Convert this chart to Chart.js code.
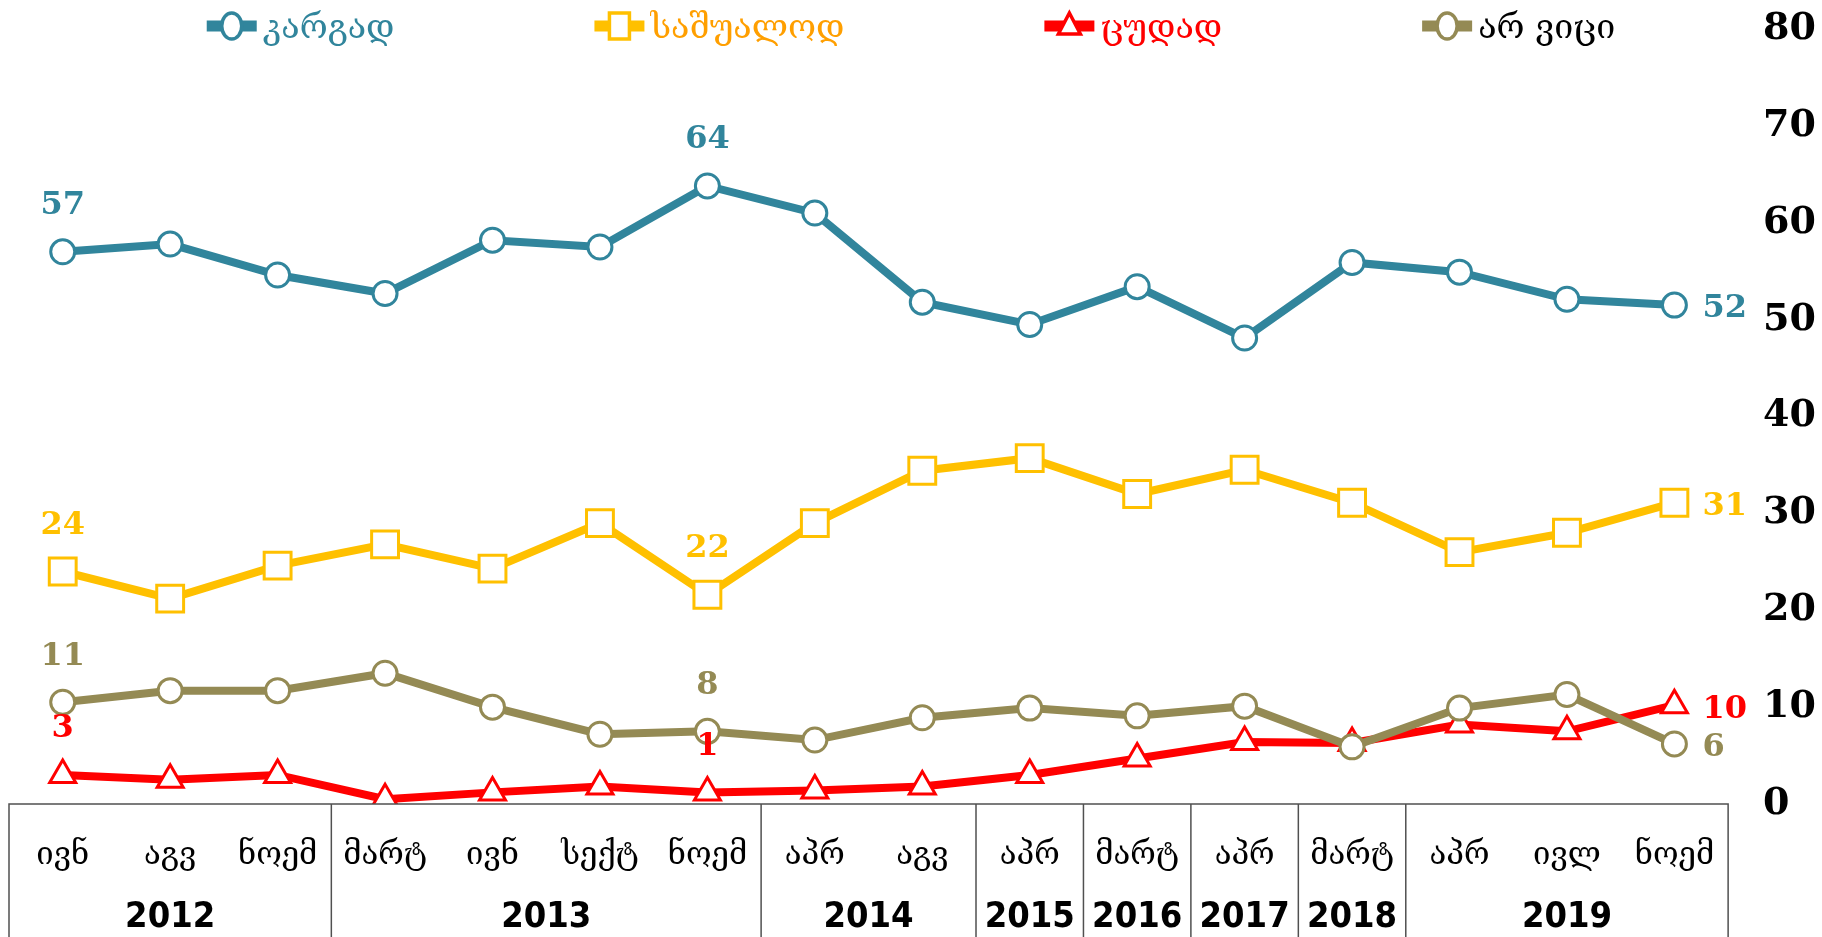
<!DOCTYPE html>
<html>
<head>
<meta charset="utf-8">
<script src="https://cdn.jsdelivr.net/npm/chart.js@4.4.0/dist/chart.umd.min.js"></script>
<style>
html, body { margin: 0; padding: 0; background: #fff; }
#wrap { width: 1822px; height: 937px; position: relative; }
</style>
</head>
<body>
<div id="wrap"><canvas id="chart"></canvas></div>
<script>
// survey waves (month row + year row of the table under the chart)
const months = ['ივნ', 'აგვ', 'ნოემ', 'მარტ', 'ივნ', 'სექტ', 'ნოემ', 'აპრ', 'აგვ', 'აპრ', 'მარტ', 'აპრ', 'მარტ', 'აპრ', 'ივლ', 'ნოემ'];
const years = ['2012', '2013', '2014', '2015', '2016', '2017', '2018', '2019'];
const yearSpans = [3, 4, 2, 1, 1, 1, 1, 3];

const seriesNames = ['კარგად', 'საშუალოდ', 'ცუდად', 'არ ვიცი'];
const good = [57, 57.8, 54.6, 52.7, 58.2, 57.5, 63.8, 61.0, 51.8, 49.5, 53.4, 48.1, 55.9, 54.9, 52.1, 51.5];
const average = [24.0, 21.2, 24.6, 26.8, 24.3, 29.0, 21.6, 29.0, 34.4, 35.7, 32.0, 34.5, 31.1, 26.0, 28.0, 31.1];
const bad = [3.0, 2.5, 3.0, 0.5, 1.2, 1.8, 1.2, 1.4, 1.8, 3.0, 4.7, 6.4, 6.3, 8.2, 7.5, 10.2];
const dontKnow = [10.5, 11.7, 11.7, 13.5, 10.0, 7.2, 7.5, 6.6, 8.9, 9.9, 9.1, 10.1, 5.9, 9.9, 11.3, 6.2];

// which points get a value label
const labeledPoints = [0, 6, 15];

const yMin = 0;
const yMax = 80;
const yStep = 10;

const BLUE = '#31859C';
const YELLOW = '#FFC000';
const RED = '#FF0000';
const OLIVE = '#948A54';

const georgianFont = '"DejaVu Serif", "DejaVu Sans", serif';
const numberFont = '"DejaVu Serif", serif';

function makeSeries(name, data, color, style, radius, order, legendColor) {
    return {
        label: name,
        data: data,
        borderColor: color,
        backgroundColor: '#fff',
        borderWidth: 8,
        pointStyle: style,
        pointRadius: radius,
        pointBorderWidth: 3,
        pointBorderColor: color,
        pointBackgroundColor: '#fff',
        tension: 0,
        order: order,
        legendColor: legendColor
    };
}

const topLegend = {
    id: 'topLegend',
    afterDraw(chart) {
        const ctx = chart.ctx;
        const datasets = chart.data.datasets;
        const markerW = 50;
        const textGap = 6;
        const itemGap = 200;
        const y = 26;
        ctx.save();
        ctx.font = '34px ' + georgianFont;
        const widths = datasets.map(ds => markerW + textGap + ctx.measureText(ds.label).width);
        const total = widths.reduce((a, b) => a + b, 0) + itemGap * (datasets.length - 1);
        let x = (chart.width - total) / 2;
        datasets.forEach((ds, i) => {
            const cx = x + markerW / 2;
            ctx.strokeStyle = ds.borderColor;
            ctx.lineWidth = 11;
            ctx.lineCap = 'butt';
            ctx.beginPath();
            ctx.moveTo(x, y);
            ctx.lineTo(x + markerW, y);
            ctx.stroke();
            ctx.fillStyle = '#fff';
            ctx.lineWidth = 3.5;
            ctx.beginPath();
            if (ds.pointStyle === 'circle') {
                ctx.ellipse(cx, y, 10, 13, 0, 0, Math.PI * 2);
            } else if (ds.pointStyle === 'rect') {
                ctx.rect(cx - 10, y - 13, 20, 26);
            } else {
                ctx.moveTo(cx, y - 13);
                ctx.lineTo(cx + 11, y + 8);
                ctx.lineTo(cx - 11, y + 8);
                ctx.closePath();
            }
            ctx.fill();
            ctx.stroke();
            ctx.fillStyle = ds.legendColor;
            ctx.textAlign = 'left';
            ctx.textBaseline = 'middle';
            ctx.fillText(ds.label, x + markerW + textGap, y + 3);
            x += widths[i] + itemGap;
        });
        ctx.restore();
    }
};

const valueLabels = {
    id: 'valueLabels',
    afterDatasetsDraw(chart) {
        const ctx = chart.ctx;
        ctx.save();
        ctx.font = 'bold 32px ' + numberFont;
        chart.data.datasets.forEach((ds, i) => {
            const meta = chart.getDatasetMeta(i);
            labeledPoints.forEach(idx => {
                const pt = meta.data[idx];
                const text = String(Math.round(ds.data[idx]));
                ctx.fillStyle = ds.borderColor;
                ctx.textBaseline = 'middle';
                if (idx === ds.data.length - 1) {
                    ctx.textAlign = 'left';
                    ctx.fillText(text, pt.x + 28, pt.y + 4);
                } else {
                    ctx.textAlign = 'center';
                    ctx.fillText(text, pt.x, pt.y - 46);
                }
            });
        });
        ctx.restore();
    }
};

const tableAxis = {
    id: 'tableAxis',
    afterDraw(chart) {
        const ctx = chart.ctx;
        const area = chart.chartArea;
        const xs = chart.scales.x;
        const step = (area.right - area.left) / months.length;
        const top = area.bottom;
        const bottom = chart.height + 2;
        ctx.save();
        ctx.strokeStyle = '#505050';
        ctx.lineWidth = 1.5;
        ctx.strokeRect(area.left, top, area.right - area.left, bottom - top);

        ctx.fillStyle = '#000';
        ctx.textAlign = 'center';
        ctx.textBaseline = 'middle';
        ctx.font = '31px ' + georgianFont;
        months.forEach((m, i) => {
            ctx.fillText(m, xs.getPixelForValue(i), top + 52);
        });

        ctx.font = 'bold 36px "DejaVu Sans Condensed", "DejaVu Sans", sans-serif';
        let start = 0;
        years.forEach((y, k) => {
            const end = start + yearSpans[k];
            const x0 = xs.getPixelForValue(start) - step / 2;
            const x1 = xs.getPixelForValue(end - 1) + step / 2;
            ctx.fillText(y, (x0 + x1) / 2, top + 114);
            if (k > 0) {
                ctx.beginPath();
                ctx.moveTo(x0, top);
                ctx.lineTo(x0, bottom);
                ctx.stroke();
            }
            start = end;
        });
        ctx.restore();
    }
};

new Chart(document.getElementById('chart'), {
    type: 'line',
    data: {
        labels: months,
        datasets: [
            makeSeries(seriesNames[0], good, BLUE, 'circle', 12, 3, BLUE),
            makeSeries(seriesNames[1], average, YELLOW, 'rect', 19, 2, '#FF9F00'),
            makeSeries(seriesNames[2], bad, RED, 'triangle', 15, 1, RED),
            makeSeries(seriesNames[3], dontKnow, OLIVE, 'circle', 12, 0, '#000')
        ]
    },
    options: {
        responsive: true,
        maintainAspectRatio: false,
        animation: false,
        layout: { autoPadding: false, padding: { left: 9, right: 6, top: 29, bottom: 133 } },
        plugins: {
            legend: { display: false },
            tooltip: { enabled: false }
        },
        scales: {
            x: {
                display: true,
                offset: true,
                ticks: { display: false },
                grid: { display: false, drawTicks: false },
                border: { display: false }
            },
            y: {
                position: 'right',
                min: yMin,
                max: yMax,
                ticks: {
                    stepSize: yStep,
                    padding: 0,
                    color: '#000',
                    font: { family: numberFont, size: 38, weight: 'bold' }
                },
                grid: {
                    display: true,
                    drawOnChartArea: false,
                    drawTicks: true,
                    tickLength: 35,
                    color: 'rgba(0,0,0,0)',
                    tickColor: 'rgba(0,0,0,0)'
                },
                border: { display: false }
            }
        }
    },
    plugins: [tableAxis, valueLabels, topLegend]
});
</script>
</body>
</html>
